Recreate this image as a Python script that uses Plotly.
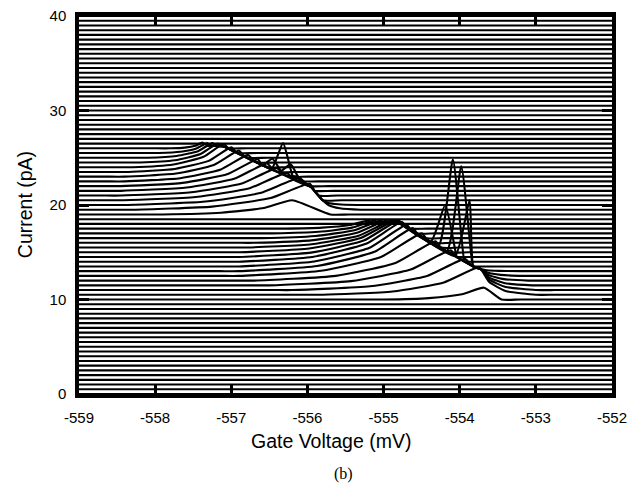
import numpy as np
import plotly.graph_objects as go

# ---------------- data ----------------
X_MIN, X_MAX = -559.0, -552.0
OFFSET_STEP = 0.5          # pA between successive traces
N_TRACES = 81              # offsets 0 ... 40 pA
X_TICKS = [-559, -558, -557, -556, -555, -554, -553, -552]
Y_TICKS = [0, 10, 20, 30, 40]

# group 1 (left peak) -- one entry per trace, keyed by its baseline offset
G1_BASE = [19.0, 19.5, 20.0, 20.5, 21.0, 21.5, 22.0, 22.5, 23.0, 23.5, 24.0, 24.5, 25.0, 25.5, 26.0]
G1_X0 = [-557.9, -558.3, -558.4, -558.45, -558.45, -558.45, -558.45, -558.4, -558.4, -558.35, -558.3, -558.2, -558.1, -557.95, -557.8]
G1_PX = [-556.2, -555.97, -556.12, -556.27, -556.4, -556.53, -556.65, -556.78, -556.9, -557.0, -557.1, -557.18, -557.25, -557.32, -557.38]
G1_PY = [20.5, 22.25, 22.8, 23.4, 23.9, 24.4, 24.85, 25.3, 25.75, 26.1, 26.45, 26.5, 26.55, 26.55, 26.6]
G1_XE = [-555.7, -555.3, -555.35, None, None, None, None, None, None, None, None, None, None, None, None]
G1_RIDGE_X = [-557.35, -557.1, -555.95, -555.8]
G1_RIDGE_Y = [26.3, 26.2, 21.9, 20.5]
G1_SPIKE_BASE = [22.0, 22.5, 21.5, 21.0]
G1_SPIKE_X = [-556.46, -556.32, -556.22, -556.12]
G1_SPIKE_Y = [24.9, 26.55, 24.3, 23.0]

# group 2 (right peak)
G2_BASE = [10.0, 10.5, 11.0, 11.5, 12.0, 12.5, 13.0, 13.5, 14.0, 14.5, 15.0, 15.5, 16.0, 16.5, 17.0, 17.5]
G2_X0 = [-555.0, -555.8, -556.2, -556.5, -556.7, -556.9, -556.9, -556.9, -556.9, -556.9, -556.9, -556.8, -556.7, -556.6, -556.45, -556.3]
G2_PX = [-553.68, -553.76, -553.93, -554.12, -554.32, -554.5, -554.62, -554.7, -554.76, -554.8, -554.85, -554.9, -554.97, -555.04, -555.12, -555.2]
G2_PY = [11.25, 13.4, 14.3, 15.2, 16.15, 17.0, 17.55, 17.9, 18.2, 18.35, 18.35, 18.35, 18.35, 18.35, 18.35, 18.35]
G2_XE = [-553.45, -553.0, -553.0, -553.05, -553.1, -553.15, -553.2, None, None, None, None, None, None, None, None, None]
G2_RIDGE_X = [-555.2, -554.8, -553.82, -553.72]
G2_RIDGE_Y = [18.1, 18.1, 13.5, 13.2]
G2_SPIKE_BASE = [14.5, 14.0, 13.5, 13.0]
G2_SPIKE_X = [-554.19, -554.09, -553.98, -553.87]
G2_SPIKE_Y = [20.0, 24.8, 24.1, 20.5]

# drawing style: shape of a rising flank and of the tail after the ridge end
FLANK_FX = [0.45, 0.78]
FLANK_FY = [0.12, 0.45]
TAIL_FX = [0.15, 0.45]
TAIL_FY = [0.5, 0.15]
GUARD = 0.25


def hump_path(b, x0, px, py, xe, rx, ry, spikes, bump_w, leg_l, leg_r):
    ridge = lambda x: float(np.interp(x, rx, ry))
    if xe is None:
        xe = rx[-1] + 0.15
    xs = [X_MIN, x0 - GUARD, x0]
    ys = [b, b, b]
    for fx, fy in zip(FLANK_FX, FLANK_FY):
        xs.append(x0 + fx * (px - x0))
        ys.append(b + fy * (py - b))
    xs.append(px)
    ys.append(py)
    standalone = (py < ridge(px) - 0.1) or (px >= rx[-1])
    if standalone:
        xs += [xe, xe + GUARD, X_MAX]
        ys += [b, b, b]
        return xs, ys
    start = px + bump_w
    if ry[-1] > b:
        x_end = rx[-1]
        reaches_end = True
    else:
        x_end = float(np.interp(b, ry[::-1], rx[::-1]))
        reaches_end = False
    pts = {}
    if start < x_end:
        pts[start] = ridge(start)
    for v in rx:
        if start < v < x_end:
            pts[v] = ridge(v)
    for sx, sy in spikes:
        pts[sx - leg_l] = ridge(sx - leg_l)
        pts[sx] = sy
        pts[sx + leg_r] = ridge(sx + leg_r)
    for v in sorted(pts):
        xs.append(v)
        ys.append(pts[v])
    if reaches_end:
        ex, ey = rx[-1], ry[-1]
        xs.append(ex)
        ys.append(ey)
        for fx, fy in zip(TAIL_FX, TAIL_FY):
            xs.append(ex + fx * (xe - ex))
            ys.append(b + fy * (ey - b))
        xs += [xe, xe + GUARD, X_MAX]
        ys += [b, b, b]
    else:
        xs += [x_end, x_end + GUARD, X_MAX]
        ys += [b, b, b]
    return xs, ys


paths = {}
for k in range(N_TRACES):
    b = round(k * OFFSET_STEP, 2)
    paths[b] = ([X_MIN, X_MAX], [b, b])

groups = [
    (G1_BASE, G1_X0, G1_PX, G1_PY, G1_XE, G1_RIDGE_X, G1_RIDGE_Y,
     G1_SPIKE_BASE, G1_SPIKE_X, G1_SPIKE_Y, 0.15, 0.14),
    (G2_BASE, G2_X0, G2_PX, G2_PY, G2_XE, G2_RIDGE_X, G2_RIDGE_Y,
     G2_SPIKE_BASE, G2_SPIKE_X, G2_SPIKE_Y, 0.19, 0.15),
]
for (B, X0, PX, PY, XE, RX, RY, SB, SX, SY, LL, LR) in groups:
    for i, b in enumerate(B):
        spikes = [(SX[j], SY[j]) for j in range(len(SB)) if SB[j] == b]
        paths[b] = hump_path(b, X0[i], PX[i], PY[i], XE[i], RX, RY,
                             spikes, 0.07, LL, LR)

fig = go.Figure()
for b in sorted(paths):
    xs, ys = paths[b]
    fig.add_trace(go.Scatter(x=xs, y=ys, mode="lines",
                             line=dict(color="black", width=2.1, shape="spline", smoothing=0.5),
                             hoverinfo="skip", showlegend=False))

FONT = "Liberation Sans, Arial, Helvetica, sans-serif"
axis_common = dict(showline=True, linewidth=3.5, linecolor="black", mirror="ticks",
                   ticks="inside", ticklen=10, tickwidth=3, tickcolor="black",
                   showgrid=False, zeroline=False,
                   tickfont=dict(family=FONT, size=15, color="black"))
fig.update_xaxes(range=[X_MIN, X_MAX], tickvals=X_TICKS,
                 ticktext=[str(v) for v in X_TICKS], ticklabelstandoff=7, **axis_common)
fig.update_yaxes(range=[0, 40], tickvals=Y_TICKS, ticklabelstandoff=6, **axis_common)

fig.update_layout(
    width=637, height=492,
    margin=dict(l=79, r=25, t=7, b=98),
    plot_bgcolor="white", paper_bgcolor="white",
    showlegend=False,
    annotations=[
        dict(text="Gate Voltage (mV)", xref="paper", yref="paper", x=0.472, y=-0.124,
             showarrow=False, xanchor="center", yanchor="middle",
             font=dict(family=FONT, size=19.5, color="black")),
        dict(text="Current (pA)", xref="paper", yref="paper", x=-0.101, y=0.50,
             showarrow=False, textangle=-90, xanchor="center", yanchor="middle",
             font=dict(family=FONT, size=19.5, color="black")),
        dict(text="(b)", xref="paper", yref="paper", x=0.497, y=-0.212,
             showarrow=False, xanchor="center", yanchor="middle",
             font=dict(family="Liberation Serif, Times New Roman, serif", size=16, color="black")),
    ],
)
fig.write_html("out.html")
